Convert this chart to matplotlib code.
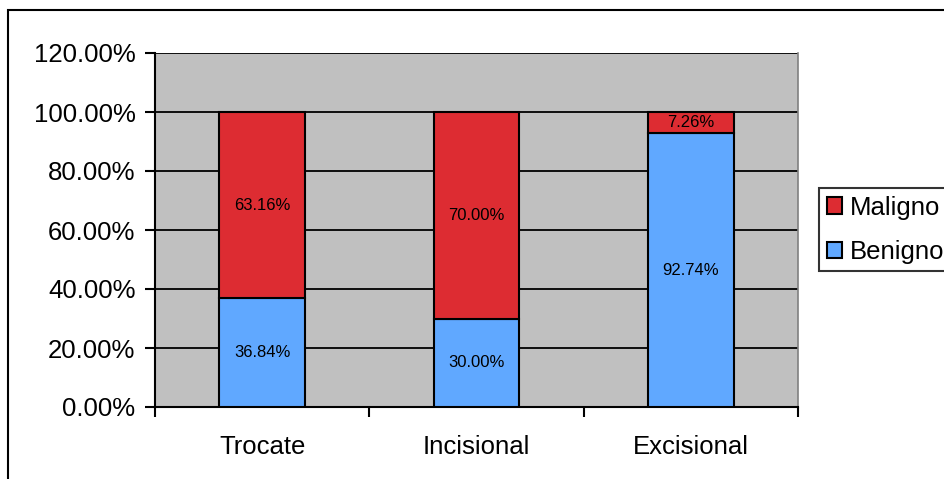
import matplotlib
matplotlib.use("Agg")
import matplotlib.pyplot as plt
from matplotlib.patches import Rectangle, Patch

plt.rcParams['font.family'] = ['Liberation Sans', 'DejaVu Sans']

categories = ["Trocate", "Incisional", "Excisional"]
benigno = [36.84, 30.00, 92.74]
maligno = [63.16, 70.00, 7.26]
y_ticks = [0, 20, 40, 60, 80, 100, 120]

red = "#DD2C32"
blue = "#60A8FF"
gray = "#C0C0C0"

fig = plt.figure(figsize=(9.45, 4.79), dpi=100)
fig.patch.set_facecolor("white")

# chart outer border
fig.add_artist(Rectangle((8 / 945, -0.05), 1.1, 1 - 10 / 479 + 0.05,
                         transform=fig.transFigure, fill=False,
                         edgecolor="black", linewidth=1.5))

ax = fig.add_axes([155 / 945, 1 - 407 / 479, (798 - 155) / 945, (407 - 53) / 479])
ax.set_facecolor(gray)

x = range(len(categories))
width = 0.40
ax.bar(x, benigno, width, color=blue, edgecolor="black", linewidth=1.5, zorder=3)
ax.bar(x, maligno, width, bottom=benigno, color=red, edgecolor="black",
       linewidth=1.5, zorder=3)

for i in x:
    ax.text(i, benigno[i] / 2, f"{benigno[i]:.2f}%", ha="center", va="center",
            fontsize=12, zorder=4)
    ax.text(i, benigno[i] + maligno[i] / 2, f"{maligno[i]:.2f}%", ha="center",
            va="center", fontsize=12, zorder=4)

ax.set_xlim(-0.5, len(categories) - 0.5)
ax.set_ylim(0, 120)
ax.set_yticks(y_ticks)
ax.set_yticklabels([f"{v:.2f}%" for v in y_ticks], fontsize=18.5)
ax.yaxis.grid(True, color="black", linewidth=1.3, zorder=1)
ax.set_axisbelow(True)

ax.set_xticks(list(x))
ax.set_xticklabels(categories, fontsize=18.5)
ax.set_xticks([-0.5, 0.5, 1.5, 2.5], minor=True)
ax.tick_params(axis="x", which="major", length=0, pad=20)
ax.tick_params(axis="x", which="minor", length=7, width=1.5, direction="out")
ax.tick_params(axis="y", length=7, width=1.5, direction="out", pad=7)

for s in ("left", "bottom"):
    ax.spines[s].set_linewidth(1.5)
    ax.spines[s].set_color("black")
ax.spines["top"].set_visible(False)
ax.spines["right"].set_color("#808080")
ax.spines["right"].set_linewidth(1.2)

handles = [Patch(facecolor=red, edgecolor="black", linewidth=1.5, label="Maligno"),
           Patch(facecolor=blue, edgecolor="black", linewidth=1.5, label="Benigno")]
leg = fig.legend(handles=handles, loc="upper left",
                 bbox_to_anchor=(819 / 945, 1 - 188 / 479), fontsize=18.5,
                 frameon=True, fancybox=False, handlelength=0.6, handleheight=0.6,
                 handletextpad=0.3, borderpad=0.3, labelspacing=0.78,
                 borderaxespad=0)
leg.get_frame().set_edgecolor("black")
leg.get_frame().set_linewidth(1.5)

fig.savefig("out.png", dpi=100)
